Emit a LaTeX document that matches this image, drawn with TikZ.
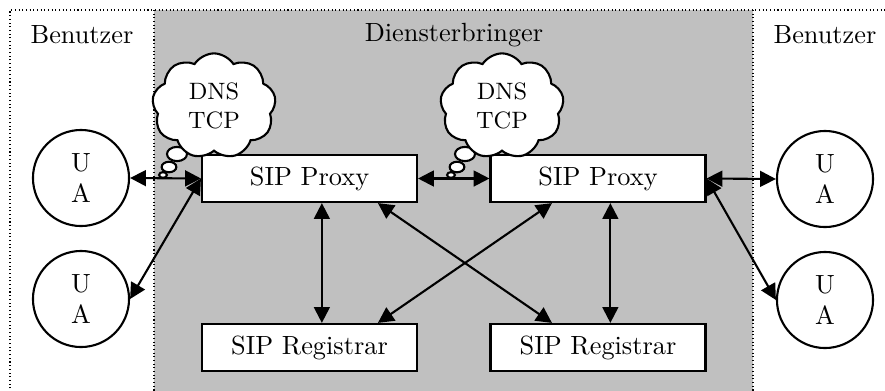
\documentclass[tikz,border=0pt]{standalone}
\usepackage{tikz}
\usetikzlibrary{shapes,arrows.meta}
\definecolor{provgray}{RGB}{192,192,192}

\begin{document}
\begin{tikzpicture}[x=0.38pt, y=-0.38pt, thick,
    ua/.style = {draw, circle, minimum size=36.5pt, inner sep=0pt, align=center, fill=white},
    box/.style = {draw, rectangle, minimum width=81.7pt, minimum height=17.9pt, fill=white},
    bubble/.style = {draw, cloud, cloud puffs=9, cloud puff arc=115, minimum width=47pt, minimum height=40pt,
                     fill=white, align=center, font=\small, inner sep=0pt},
    link/.style = {{Triangle[length=6pt,width=6pt]}-{Triangle[length=6pt,width=6pt]}}]
    \useasboundingbox (0,0) rectangle (885,390);
    \fill[provgray] (154,10) rectangle (753,392);
    \draw[thin, densely dotted] (10,392) -- (10,10) -- (886,10);
    \draw[thin, densely dotted] (154,10) -- (154,392);
    \draw[thin, densely dotted] (753,10) -- (753,392);
    \node (ben1) at (82,35) {Benutzer};
    \node (dienst) at (454,35) {Diensterbringer};
    \node (ben2) at (825,35) {Benutzer};
    \node[ua] (ua1) at (81,178) {U\\A};
    \node[ua] (ua2) at (81,299) {U\\A};
    \node[ua] (ua3) at (825,179) {U\\A};
    \node[ua] (ua4) at (825,300) {U\\A};
    \node[box] (px1) at (309.5,178.5) {SIP Proxy};
    \node[box] (px2) at (598,178.5) {SIP Proxy};
    \node[box] (rg1) at (309.5,347.5) {SIP Registrar};
    \node[box] (rg2) at (598,347.5) {SIP Registrar};
    \coordinate (cl1pos) at (214,106);
    \coordinate (cl2pos) at (502,106);
    \foreach \c in {cl1pos,cl2pos} {
        \draw[fill=white] ([shift={(-37,48)}]\c) ellipse [x radius=3.8pt, y radius=2.7pt];
        \draw[fill=white] ([shift={(-45,61)}]\c) ellipse [x radius=2.8pt, y radius=2pt];
        \draw[fill=white] ([shift={(-51,69)}]\c) ellipse [x radius=1.5pt, y radius=1.1pt];
    }
    \node[bubble] (cl1) at (cl1pos) {DNS\\TCP};
    \node[bubble] (cl2) at (cl2pos) {DNS\\TCP};
    \draw[link] (ua1.east) -- (px1.west);
    \draw[link] (ua2.east) -- (px1.west);
    \draw[link] (px1.east) -- (px2.west);
    \draw[link] (px2.east) -- (ua3.west);
    \draw[link] (px2.east) -- (ua4.west);
    \draw[link] ([xshift=4.7pt]px1.south) -- ([xshift=4.7pt]rg1.north);
    \draw[link] ([xshift=4.7pt]px2.south) -- ([xshift=4.7pt]rg2.north);
    \draw[link] ([xshift=26pt]px1.south) -- ([xshift=-17.5pt]rg2.north);
    \draw[link] ([xshift=-17.5pt]px2.south) -- ([xshift=26pt]rg1.north);
\end{tikzpicture}
\end{document}
